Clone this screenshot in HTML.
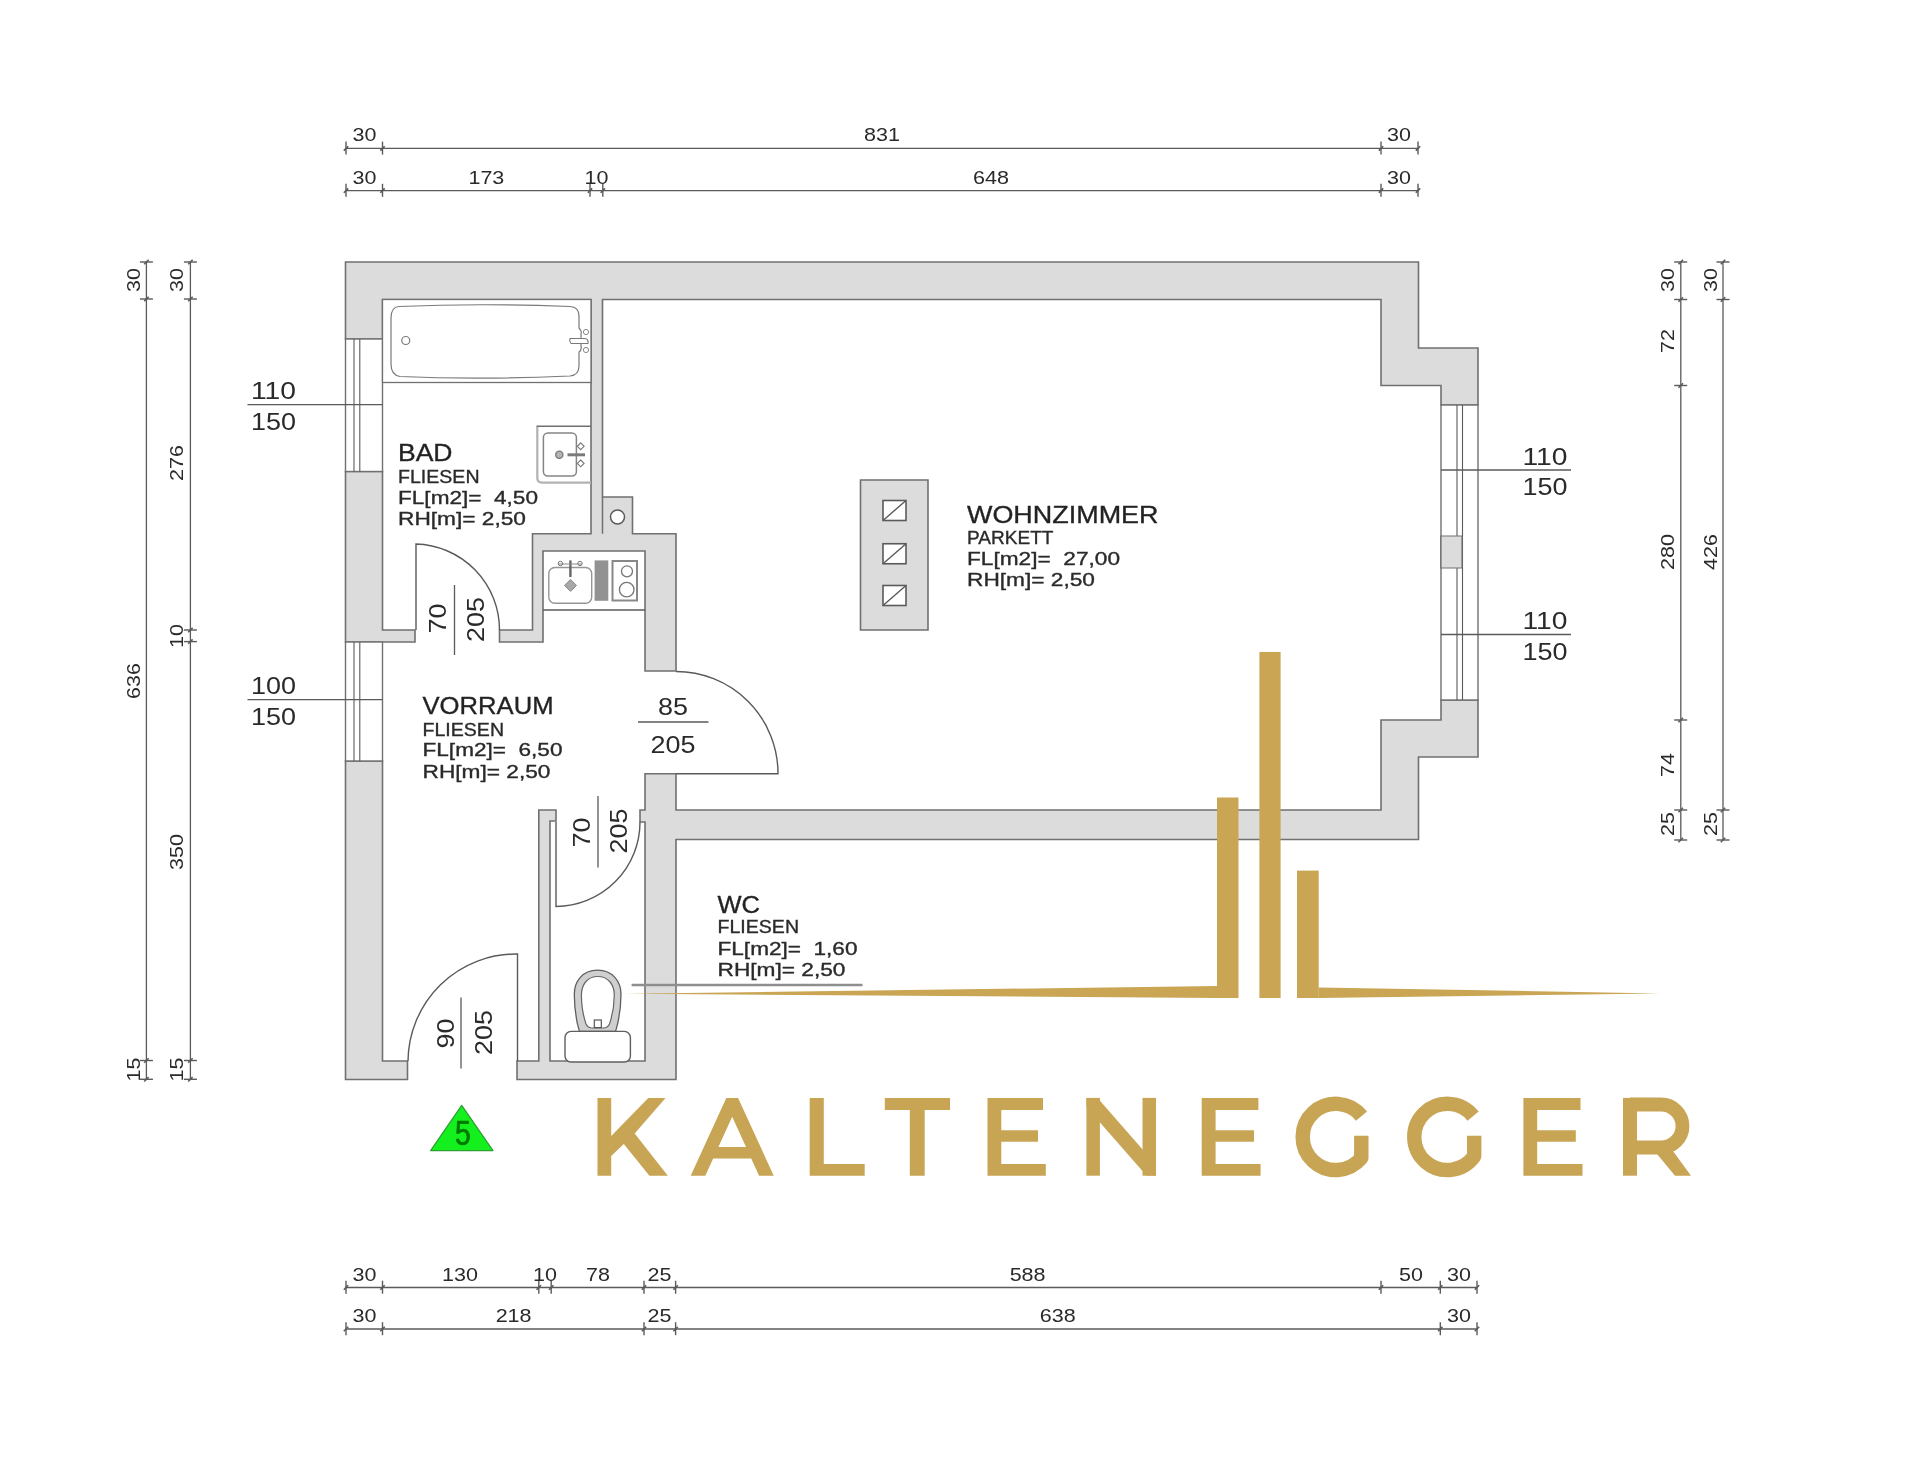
<!DOCTYPE html>
<html><head><meta charset="utf-8"><title>Floor plan</title>
<style>html,body{margin:0;padding:0;background:#fff;}body{width:1920px;height:1466px;overflow:hidden;font-family:"Liberation Sans",sans-serif;}svg{display:block;filter:blur(0.55px);}</style>
</head><body>
<svg width="1920" height="1466" viewBox="0 0 1920 1466" font-family="Liberation Sans, sans-serif">
<rect width="1920" height="1466" fill="#ffffff"/>
<path d="M345.5,262.0 L1418.5,262.0 L1418.5,348.0 L1478.0,348.0 L1478.0,405.0 L1441.0,405.0 L1441.0,385.5 L1381.0,385.5 L1381.0,299.5 L602.5,299.5 L602.5,497.0 L632.5,497.0 L632.5,533.8 L676.0,533.8 L676.0,671.0 L645.0,671.0 L645.0,551.0 L543.0,551.0 L543.0,642.0 L499.5,642.0 L499.5,630.0 L532.5,630.0 L532.5,533.8 L591.0,533.8 L591.0,299.5 L382.5,299.5 L382.5,339.0 L345.5,339.0 Z" fill="#dcdcdc" stroke="#707070" stroke-width="1.6" stroke-linejoin="miter"/>
<path d="M345.5,471.5 L382.5,471.5 L382.5,630.0 L415.0,630.0 L415.0,642.0 L345.5,642.0 Z" fill="#dcdcdc" stroke="#707070" stroke-width="1.6" stroke-linejoin="miter"/>
<path d="M345.5,761.0 L382.5,761.0 L382.5,1061.0 L407.5,1061.0 L407.5,1079.5 L345.5,1079.5 Z" fill="#dcdcdc" stroke="#707070" stroke-width="1.6" stroke-linejoin="miter"/>
<path d="M645.0,773.8 L676.0,773.8 L676.0,810.0 L1381.0,810.0 L1381.0,720.0 L1441.0,720.0 L1441.0,700.0 L1478.0,700.0 L1478.0,757.0 L1418.5,757.0 L1418.5,839.5 L676.0,839.5 L676.0,1079.5 L517.0,1079.5 L517.0,1061.0 L538.8,1061.0 L538.8,810.0 L556.0,810.0 L556.0,821.0 L550.0,821.0 L550.0,1061.0 L645.0,1061.0 L645.0,822.0 L640.0,822.0 L640.0,810.0 L645.0,810.0 Z" fill="#dcdcdc" stroke="#707070" stroke-width="1.6" stroke-linejoin="miter"/>
<path d="M1441.0,536.0 L1462.0,536.0 L1462.0,568.0 L1441.0,568.0 Z" fill="#dcdcdc" stroke="#707070" stroke-width="1.2" stroke-linejoin="miter"/>
<line x1="602.5" y1="497.0" x2="602.5" y2="533.8" stroke="#707070" stroke-width="1.5"/>
<circle cx="617.5" cy="517" r="7" fill="#fff" stroke="#5a5a5a" stroke-width="1.5"/>
<path d="M860.5,480.0 L928.0,480.0 L928.0,630.0 L860.5,630.0 Z" fill="#dcdcdc" stroke="#707070" stroke-width="1.6" stroke-linejoin="miter"/>
<rect x="883" y="500.5" width="23" height="20" fill="#fff" stroke="#5a5a5a" stroke-width="1.6"/>
<line x1="883.0" y1="520.5" x2="906.0" y2="500.5" stroke="#5a5a5a" stroke-width="1.4"/>
<rect x="883" y="543.75" width="23" height="20" fill="#fff" stroke="#5a5a5a" stroke-width="1.6"/>
<line x1="883.0" y1="563.8" x2="906.0" y2="543.8" stroke="#5a5a5a" stroke-width="1.4"/>
<rect x="883" y="585.5" width="23" height="20" fill="#fff" stroke="#5a5a5a" stroke-width="1.6"/>
<line x1="883.0" y1="605.5" x2="906.0" y2="585.5" stroke="#5a5a5a" stroke-width="1.4"/>
<rect x="345.5" y="339" width="37.0" height="132.5" fill="#fff" stroke="#707070" stroke-width="1.4"/>
<line x1="354.0" y1="339.0" x2="354.0" y2="471.5" stroke="#5a5a5a" stroke-width="1.1"/>
<line x1="359.8" y1="339.0" x2="359.8" y2="471.5" stroke="#5a5a5a" stroke-width="1.1"/>
<rect x="345.5" y="642" width="37.0" height="119" fill="#fff" stroke="#707070" stroke-width="1.4"/>
<line x1="354.0" y1="642.0" x2="354.0" y2="761.0" stroke="#5a5a5a" stroke-width="1.1"/>
<line x1="359.8" y1="642.0" x2="359.8" y2="761.0" stroke="#5a5a5a" stroke-width="1.1"/>
<rect x="1441" y="405" width="37" height="295" fill="#fff" stroke="#707070" stroke-width="1.4"/>
<line x1="1457.0" y1="405.0" x2="1457.0" y2="700.0" stroke="#5a5a5a" stroke-width="1.1"/>
<line x1="1462.5" y1="405.0" x2="1462.5" y2="700.0" stroke="#5a5a5a" stroke-width="1.1"/>
<path d="M1441.0,536.0 L1462.0,536.0 L1462.0,568.0 L1441.0,568.0 Z" fill="#dcdcdc" stroke="#707070" stroke-width="1.2" stroke-linejoin="miter"/>
<line x1="247.5" y1="404.7" x2="382.5" y2="404.7" stroke="#5a5a5a" stroke-width="1.3"/>
<text x="251.0" y="399.2" font-size="24" text-anchor="start" fill="#2a2a2a" font-weight="normal" textLength="45.0" lengthAdjust="spacingAndGlyphs" >110</text>
<text x="251.0" y="429.7" font-size="24" text-anchor="start" fill="#2a2a2a" font-weight="normal" textLength="45.0" lengthAdjust="spacingAndGlyphs" >150</text>
<line x1="247.5" y1="699.6" x2="382.5" y2="699.6" stroke="#5a5a5a" stroke-width="1.3"/>
<text x="251.0" y="694.1" font-size="24" text-anchor="start" fill="#2a2a2a" font-weight="normal" textLength="45.0" lengthAdjust="spacingAndGlyphs" >100</text>
<text x="251.0" y="724.6" font-size="24" text-anchor="start" fill="#2a2a2a" font-weight="normal" textLength="45.0" lengthAdjust="spacingAndGlyphs" >150</text>
<line x1="1441.0" y1="470.0" x2="1571.0" y2="470.0" stroke="#5a5a5a" stroke-width="1.3"/>
<text x="1522.5" y="464.5" font-size="24" text-anchor="start" fill="#2a2a2a" font-weight="normal" textLength="45.0" lengthAdjust="spacingAndGlyphs" >110</text>
<text x="1522.5" y="495.0" font-size="24" text-anchor="start" fill="#2a2a2a" font-weight="normal" textLength="45.0" lengthAdjust="spacingAndGlyphs" >150</text>
<line x1="1441.0" y1="634.5" x2="1571.0" y2="634.5" stroke="#5a5a5a" stroke-width="1.3"/>
<text x="1522.5" y="629.0" font-size="24" text-anchor="start" fill="#2a2a2a" font-weight="normal" textLength="45.0" lengthAdjust="spacingAndGlyphs" >110</text>
<text x="1522.5" y="659.5" font-size="24" text-anchor="start" fill="#2a2a2a" font-weight="normal" textLength="45.0" lengthAdjust="spacingAndGlyphs" >150</text>
<path d="M416,630 L416,544 A86,86 0 0 1 499.5,630" fill="none" stroke="#5a5a5a" stroke-width="1.4"/>
<path d="M676,773.75 L778,773.75 A102,102 0 0 0 676,671.5" fill="none" stroke="#5a5a5a" stroke-width="1.4"/>
<path d="M556,822 L556,906.5 A84.5,84.5 0 0 0 640,822" fill="none" stroke="#5a5a5a" stroke-width="1.4"/>
<path d="M517.5,1061 L517.5,954 A108,108 0 0 0 408,1061" fill="none" stroke="#5a5a5a" stroke-width="1.4"/>
<line x1="543.0" y1="610.0" x2="645.0" y2="610.0" stroke="#5a5a5a" stroke-width="1.3"/>
<line x1="454.5" y1="585.0" x2="454.5" y2="655.0" stroke="#5a5a5a" stroke-width="1.3"/>
<text x="445.7" y="618.5" font-size="24" text-anchor="middle" fill="#2a2a2a" font-weight="normal" textLength="30.0" lengthAdjust="spacingAndGlyphs" transform="rotate(-90 445.7 618.5)" >70</text>
<text x="484.2" y="619.5" font-size="24" text-anchor="middle" fill="#2a2a2a" font-weight="normal" textLength="45.0" lengthAdjust="spacingAndGlyphs" transform="rotate(-90 484.2 619.5)" >205</text>
<line x1="598.0" y1="796.0" x2="598.0" y2="867.5" stroke="#5a5a5a" stroke-width="1.3"/>
<text x="589.7" y="832.5" font-size="24" text-anchor="middle" fill="#2a2a2a" font-weight="normal" textLength="30.0" lengthAdjust="spacingAndGlyphs" transform="rotate(-90 589.7 832.5)" >70</text>
<text x="627.2" y="831.0" font-size="24" text-anchor="middle" fill="#2a2a2a" font-weight="normal" textLength="45.0" lengthAdjust="spacingAndGlyphs" transform="rotate(-90 627.2 831.0)" >205</text>
<line x1="461.0" y1="997.5" x2="461.0" y2="1068.5" stroke="#5a5a5a" stroke-width="1.3"/>
<text x="453.7" y="1033.5" font-size="24" text-anchor="middle" fill="#2a2a2a" font-weight="normal" textLength="30.0" lengthAdjust="spacingAndGlyphs" transform="rotate(-90 453.7 1033.5)" >90</text>
<text x="492.2" y="1032.5" font-size="24" text-anchor="middle" fill="#2a2a2a" font-weight="normal" textLength="45.0" lengthAdjust="spacingAndGlyphs" transform="rotate(-90 492.2 1032.5)" >205</text>
<line x1="638.0" y1="722.0" x2="708.5" y2="722.0" stroke="#5a5a5a" stroke-width="1.3"/>
<text x="673.0" y="715.0" font-size="24" text-anchor="middle" fill="#2a2a2a" font-weight="normal" textLength="30.0" lengthAdjust="spacingAndGlyphs" >85</text>
<text x="673.0" y="753.0" font-size="24" text-anchor="middle" fill="#2a2a2a" font-weight="normal" textLength="45.0" lengthAdjust="spacingAndGlyphs" >205</text>
<rect x="382.5" y="299.5" width="208.5" height="83.0" fill="#fff" stroke="#707070" stroke-width="1.3"/>
<path d="M399,306.5 Q391,307 391,318 L391,364 Q391,375 400,376.5 Q480,380 570,376 Q579,375 579,366 L579,352 Q582,350 581,346 L581,334 Q582,331 579,328 L579,316 Q579,307 570,306.5 Q480,303 399,306.5 Z" fill="#fff" stroke="#7a7a7a" stroke-width="1.2"/>
<circle cx="405.75" cy="340.5" r="4" fill="#fff" stroke="#7a7a7a" stroke-width="1.2"/>
<path d="M570,338.5 L585,338.5 Q588,339 588,341.5 L588,343.5 L571,343.5 Q569,341 570,338.5 Z" fill="#fff" stroke="#7a7a7a" stroke-width="1.1"/>
<circle cx="586" cy="332" r="2.6" fill="none" stroke="#8a8a8a" stroke-width="1"/>
<circle cx="586" cy="350" r="2.6" fill="none" stroke="#8a8a8a" stroke-width="1"/>
<path d="M591,482.6 L542,482.6 Q537.3,482.6 537.3,478 L537.3,426.3" fill="#fff" stroke="#b2b2b2" stroke-width="2.2"/>
<path d="M536.6,426.3 L591,426.3" fill="none" stroke="#707070" stroke-width="1.6"/>
<rect x="543.4" y="433" width="33" height="43" rx="4.5" fill="#fff" stroke="#858585" stroke-width="1.5"/>
<circle cx="559.3" cy="454.8" r="3.6" fill="#b5b5b5" stroke="#777" stroke-width="1.3"/>
<line x1="567.5" y1="454.8" x2="585.0" y2="454.8" stroke="#7a7a7a" stroke-width="3"/>
<path d="M580.7,442.90000000000003 L584.1,446.3 L580.7,449.7 L577.3,446.3 Z" fill="#fff" stroke="#777" stroke-width="1.1"/>
<path d="M580.7,460.0 L584.1,463.4 L580.7,466.79999999999995 L577.3,463.4 Z" fill="#fff" stroke="#777" stroke-width="1.1"/>
<rect x="548.8" y="567.5" width="42.9" height="35.8" rx="6" fill="#fff" stroke="#969696" stroke-width="1.4"/>
<line x1="570.4" y1="560.4" x2="570.4" y2="577.0" stroke="#666" stroke-width="2.4"/>
<line x1="558.0" y1="564.0" x2="582.0" y2="564.0" stroke="#888" stroke-width="1"/>
<circle cx="560.4" cy="563.5" r="2.2" fill="none" stroke="#777" stroke-width="1"/>
<circle cx="580" cy="563.5" r="2.2" fill="none" stroke="#777" stroke-width="1"/>
<path d="M570.5,579.4 L576.5,585.4 L570.5,591.4 L564.5,585.4 Z" fill="#a8a8a8" stroke="#8a8a8a" stroke-width="1"/>
<rect x="594.6" y="560.4" width="13.7" height="40.4" fill="#929292"/>
<rect x="612.5" y="561" width="24.5" height="39.5" fill="#fff" stroke="#888" stroke-width="2"/>
<circle cx="627" cy="571.3" r="5.5" fill="#fff" stroke="#777" stroke-width="1.3"/>
<circle cx="626.7" cy="589.6" r="7.3" fill="#fff" stroke="#777" stroke-width="1.3"/>
<path d="M597.6,970.2 C582,970.2 574.3,982 574.3,994 C574.3,1008 576,1020 579.4,1031.4 L615.6,1031.4 C619,1020 621,1008 621,994 C621,982 613,970.2 597.6,970.2 Z" fill="#cfcfcf" stroke="#5f5f5f" stroke-width="1.3"/>
<path d="M597.8,976.5 C587,976.5 581.4,985 581.4,995 C581.4,1007 584,1018 586,1024 Q588,1028 592,1028 L603.5,1028 Q607.5,1028 609.5,1024 C611.5,1018 614.3,1007 614.3,995 C614.3,985 608.5,976.5 597.8,976.5 Z" fill="#fff" stroke="#666" stroke-width="1.2"/>
<rect x="594.3" y="1020" width="7" height="7.6" fill="#fff" stroke="#555" stroke-width="1.2"/>
<rect x="565" y="1031.4" width="65.4" height="30.6" rx="6" fill="#fff" stroke="#5f5f5f" stroke-width="1.4"/>
<text x="398.0" y="461.0" font-size="24" text-anchor="start" fill="#222" font-weight="normal" textLength="54.5" lengthAdjust="spacingAndGlyphs" stroke="#2a2a2a" stroke-width="0.35">BAD</text>
<text x="398.0" y="482.7" font-size="18.5" text-anchor="start" fill="#2a2a2a" font-weight="normal" textLength="81.5" lengthAdjust="spacingAndGlyphs" stroke="#2a2a2a" stroke-width="0.35">FLIESEN</text>
<text x="398.0" y="503.5" font-size="18.5" text-anchor="start" fill="#2a2a2a" font-weight="normal" textLength="140.0" lengthAdjust="spacingAndGlyphs" xml:space="preserve" stroke="#2a2a2a" stroke-width="0.35">FL[m2]=  4,50</text>
<text x="398.0" y="524.7" font-size="18.5" text-anchor="start" fill="#2a2a2a" font-weight="normal" textLength="128.0" lengthAdjust="spacingAndGlyphs" stroke="#2a2a2a" stroke-width="0.35">RH[m]= 2,50</text>
<text x="422.5" y="713.8" font-size="24" text-anchor="start" fill="#222" font-weight="normal" textLength="131.0" lengthAdjust="spacingAndGlyphs" stroke="#2a2a2a" stroke-width="0.35">VORRAUM</text>
<text x="422.5" y="735.5" font-size="18.5" text-anchor="start" fill="#2a2a2a" font-weight="normal" textLength="81.5" lengthAdjust="spacingAndGlyphs" stroke="#2a2a2a" stroke-width="0.35">FLIESEN</text>
<text x="422.5" y="756.2" font-size="18.5" text-anchor="start" fill="#2a2a2a" font-weight="normal" textLength="140.0" lengthAdjust="spacingAndGlyphs" xml:space="preserve" stroke="#2a2a2a" stroke-width="0.35">FL[m2]=  6,50</text>
<text x="422.5" y="777.5" font-size="18.5" text-anchor="start" fill="#2a2a2a" font-weight="normal" textLength="128.0" lengthAdjust="spacingAndGlyphs" stroke="#2a2a2a" stroke-width="0.35">RH[m]= 2,50</text>
<text x="967.0" y="522.5" font-size="24" text-anchor="start" fill="#222" font-weight="normal" textLength="191.5" lengthAdjust="spacingAndGlyphs" stroke="#2a2a2a" stroke-width="0.35">WOHNZIMMER</text>
<text x="967.0" y="543.8" font-size="18.5" text-anchor="start" fill="#2a2a2a" font-weight="normal" textLength="86.5" lengthAdjust="spacingAndGlyphs" stroke="#2a2a2a" stroke-width="0.35">PARKETT</text>
<text x="967.0" y="565.0" font-size="18.5" text-anchor="start" fill="#2a2a2a" font-weight="normal" textLength="153.0" lengthAdjust="spacingAndGlyphs" xml:space="preserve" stroke="#2a2a2a" stroke-width="0.35">FL[m2]=  27,00</text>
<text x="967.0" y="586.0" font-size="18.5" text-anchor="start" fill="#2a2a2a" font-weight="normal" textLength="128.0" lengthAdjust="spacingAndGlyphs" stroke="#2a2a2a" stroke-width="0.35">RH[m]= 2,50</text>
<text x="717.5" y="912.5" font-size="24" text-anchor="start" fill="#222" font-weight="normal" textLength="42.5" lengthAdjust="spacingAndGlyphs" stroke="#2a2a2a" stroke-width="0.35">WC</text>
<text x="717.5" y="933.0" font-size="18.5" text-anchor="start" fill="#2a2a2a" font-weight="normal" textLength="81.5" lengthAdjust="spacingAndGlyphs" stroke="#2a2a2a" stroke-width="0.35">FLIESEN</text>
<text x="717.5" y="955.0" font-size="18.5" text-anchor="start" fill="#2a2a2a" font-weight="normal" textLength="140.0" lengthAdjust="spacingAndGlyphs" xml:space="preserve" stroke="#2a2a2a" stroke-width="0.35">FL[m2]=  1,60</text>
<text x="717.5" y="975.5" font-size="18.5" text-anchor="start" fill="#2a2a2a" font-weight="normal" textLength="128.0" lengthAdjust="spacingAndGlyphs" stroke="#2a2a2a" stroke-width="0.35">RH[m]= 2,50</text>
<line x1="631.6" y1="985.0" x2="862.5" y2="985.0" stroke="#8e8e8e" stroke-width="2.5"/>
<line x1="346.0" y1="148.4" x2="1418.0" y2="148.4" stroke="#5a5a5a" stroke-width="1.3"/>
<line x1="346.0" y1="141.6" x2="346.0" y2="154.6" stroke="#5a5a5a" stroke-width="1.4"/>
<line x1="343.8" y1="150.6" x2="348.2" y2="146.2" stroke="#5a5a5a" stroke-width="1.6"/>
<line x1="382.5" y1="141.6" x2="382.5" y2="154.6" stroke="#5a5a5a" stroke-width="1.4"/>
<line x1="380.3" y1="150.6" x2="384.7" y2="146.2" stroke="#5a5a5a" stroke-width="1.6"/>
<line x1="1381.0" y1="141.6" x2="1381.0" y2="154.6" stroke="#5a5a5a" stroke-width="1.4"/>
<line x1="1378.8" y1="150.6" x2="1383.2" y2="146.2" stroke="#5a5a5a" stroke-width="1.6"/>
<line x1="1418.0" y1="141.6" x2="1418.0" y2="154.6" stroke="#5a5a5a" stroke-width="1.4"/>
<line x1="1415.8" y1="150.6" x2="1420.2" y2="146.2" stroke="#5a5a5a" stroke-width="1.6"/>
<line x1="346.0" y1="190.6" x2="1418.0" y2="190.6" stroke="#5a5a5a" stroke-width="1.3"/>
<line x1="346.0" y1="183.8" x2="346.0" y2="196.8" stroke="#5a5a5a" stroke-width="1.4"/>
<line x1="343.8" y1="192.8" x2="348.2" y2="188.4" stroke="#5a5a5a" stroke-width="1.6"/>
<line x1="382.5" y1="183.8" x2="382.5" y2="196.8" stroke="#5a5a5a" stroke-width="1.4"/>
<line x1="380.3" y1="192.8" x2="384.7" y2="188.4" stroke="#5a5a5a" stroke-width="1.6"/>
<line x1="590.0" y1="183.8" x2="590.0" y2="196.8" stroke="#5a5a5a" stroke-width="1.4"/>
<line x1="587.8" y1="192.8" x2="592.2" y2="188.4" stroke="#5a5a5a" stroke-width="1.6"/>
<line x1="602.8" y1="183.8" x2="602.8" y2="196.8" stroke="#5a5a5a" stroke-width="1.4"/>
<line x1="600.6" y1="192.8" x2="605.0" y2="188.4" stroke="#5a5a5a" stroke-width="1.6"/>
<line x1="1381.0" y1="183.8" x2="1381.0" y2="196.8" stroke="#5a5a5a" stroke-width="1.4"/>
<line x1="1378.8" y1="192.8" x2="1383.2" y2="188.4" stroke="#5a5a5a" stroke-width="1.6"/>
<line x1="1418.0" y1="183.8" x2="1418.0" y2="196.8" stroke="#5a5a5a" stroke-width="1.4"/>
<line x1="1415.8" y1="192.8" x2="1420.2" y2="188.4" stroke="#5a5a5a" stroke-width="1.6"/>
<text x="364.5" y="141.3" font-size="19" text-anchor="middle" fill="#2a2a2a" font-weight="normal" textLength="23.9" lengthAdjust="spacingAndGlyphs" >30</text>
<text x="882.0" y="141.3" font-size="19" text-anchor="middle" fill="#2a2a2a" font-weight="normal" textLength="35.9" lengthAdjust="spacingAndGlyphs" >831</text>
<text x="1399.0" y="141.3" font-size="19" text-anchor="middle" fill="#2a2a2a" font-weight="normal" textLength="23.9" lengthAdjust="spacingAndGlyphs" >30</text>
<text x="364.5" y="183.5" font-size="19" text-anchor="middle" fill="#2a2a2a" font-weight="normal" textLength="23.9" lengthAdjust="spacingAndGlyphs" >30</text>
<text x="486.4" y="183.5" font-size="19" text-anchor="middle" fill="#2a2a2a" font-weight="normal" textLength="35.9" lengthAdjust="spacingAndGlyphs" >173</text>
<text x="596.5" y="183.5" font-size="19" text-anchor="middle" fill="#2a2a2a" font-weight="normal" textLength="23.9" lengthAdjust="spacingAndGlyphs" >10</text>
<text x="991.0" y="183.5" font-size="19" text-anchor="middle" fill="#2a2a2a" font-weight="normal" textLength="35.9" lengthAdjust="spacingAndGlyphs" >648</text>
<text x="1399.0" y="183.5" font-size="19" text-anchor="middle" fill="#2a2a2a" font-weight="normal" textLength="23.9" lengthAdjust="spacingAndGlyphs" >30</text>
<line x1="346.0" y1="1287.5" x2="1477.0" y2="1287.5" stroke="#5a5a5a" stroke-width="1.3"/>
<line x1="346.0" y1="1280.7" x2="346.0" y2="1293.7" stroke="#5a5a5a" stroke-width="1.4"/>
<line x1="343.8" y1="1289.7" x2="348.2" y2="1285.3" stroke="#5a5a5a" stroke-width="1.6"/>
<line x1="382.5" y1="1280.7" x2="382.5" y2="1293.7" stroke="#5a5a5a" stroke-width="1.4"/>
<line x1="380.3" y1="1289.7" x2="384.7" y2="1285.3" stroke="#5a5a5a" stroke-width="1.6"/>
<line x1="538.8" y1="1280.7" x2="538.8" y2="1293.7" stroke="#5a5a5a" stroke-width="1.4"/>
<line x1="536.5" y1="1289.7" x2="541.0" y2="1285.3" stroke="#5a5a5a" stroke-width="1.6"/>
<line x1="551.2" y1="1280.7" x2="551.2" y2="1293.7" stroke="#5a5a5a" stroke-width="1.4"/>
<line x1="549.0" y1="1289.7" x2="553.5" y2="1285.3" stroke="#5a5a5a" stroke-width="1.6"/>
<line x1="644.0" y1="1280.7" x2="644.0" y2="1293.7" stroke="#5a5a5a" stroke-width="1.4"/>
<line x1="641.8" y1="1289.7" x2="646.2" y2="1285.3" stroke="#5a5a5a" stroke-width="1.6"/>
<line x1="675.6" y1="1280.7" x2="675.6" y2="1293.7" stroke="#5a5a5a" stroke-width="1.4"/>
<line x1="673.4" y1="1289.7" x2="677.8" y2="1285.3" stroke="#5a5a5a" stroke-width="1.6"/>
<line x1="1381.0" y1="1280.7" x2="1381.0" y2="1293.7" stroke="#5a5a5a" stroke-width="1.4"/>
<line x1="1378.8" y1="1289.7" x2="1383.2" y2="1285.3" stroke="#5a5a5a" stroke-width="1.6"/>
<line x1="1440.3" y1="1280.7" x2="1440.3" y2="1293.7" stroke="#5a5a5a" stroke-width="1.4"/>
<line x1="1438.1" y1="1289.7" x2="1442.5" y2="1285.3" stroke="#5a5a5a" stroke-width="1.6"/>
<line x1="1477.0" y1="1280.7" x2="1477.0" y2="1293.7" stroke="#5a5a5a" stroke-width="1.4"/>
<line x1="1474.8" y1="1289.7" x2="1479.2" y2="1285.3" stroke="#5a5a5a" stroke-width="1.6"/>
<line x1="346.0" y1="1329.0" x2="1477.0" y2="1329.0" stroke="#5a5a5a" stroke-width="1.3"/>
<line x1="346.0" y1="1322.2" x2="346.0" y2="1335.2" stroke="#5a5a5a" stroke-width="1.4"/>
<line x1="343.8" y1="1331.2" x2="348.2" y2="1326.8" stroke="#5a5a5a" stroke-width="1.6"/>
<line x1="382.5" y1="1322.2" x2="382.5" y2="1335.2" stroke="#5a5a5a" stroke-width="1.4"/>
<line x1="380.3" y1="1331.2" x2="384.7" y2="1326.8" stroke="#5a5a5a" stroke-width="1.6"/>
<line x1="644.0" y1="1322.2" x2="644.0" y2="1335.2" stroke="#5a5a5a" stroke-width="1.4"/>
<line x1="641.8" y1="1331.2" x2="646.2" y2="1326.8" stroke="#5a5a5a" stroke-width="1.6"/>
<line x1="675.6" y1="1322.2" x2="675.6" y2="1335.2" stroke="#5a5a5a" stroke-width="1.4"/>
<line x1="673.4" y1="1331.2" x2="677.8" y2="1326.8" stroke="#5a5a5a" stroke-width="1.6"/>
<line x1="1440.3" y1="1322.2" x2="1440.3" y2="1335.2" stroke="#5a5a5a" stroke-width="1.4"/>
<line x1="1438.1" y1="1331.2" x2="1442.5" y2="1326.8" stroke="#5a5a5a" stroke-width="1.6"/>
<line x1="1477.0" y1="1322.2" x2="1477.0" y2="1335.2" stroke="#5a5a5a" stroke-width="1.4"/>
<line x1="1474.8" y1="1331.2" x2="1479.2" y2="1326.8" stroke="#5a5a5a" stroke-width="1.6"/>
<text x="364.5" y="1280.6" font-size="19" text-anchor="middle" fill="#2a2a2a" font-weight="normal" textLength="23.9" lengthAdjust="spacingAndGlyphs" >30</text>
<text x="460.0" y="1280.6" font-size="19" text-anchor="middle" fill="#2a2a2a" font-weight="normal" textLength="35.9" lengthAdjust="spacingAndGlyphs" >130</text>
<text x="545.0" y="1280.6" font-size="19" text-anchor="middle" fill="#2a2a2a" font-weight="normal" textLength="23.9" lengthAdjust="spacingAndGlyphs" >10</text>
<text x="598.0" y="1280.6" font-size="19" text-anchor="middle" fill="#2a2a2a" font-weight="normal" textLength="23.9" lengthAdjust="spacingAndGlyphs" >78</text>
<text x="659.5" y="1280.6" font-size="19" text-anchor="middle" fill="#2a2a2a" font-weight="normal" textLength="23.9" lengthAdjust="spacingAndGlyphs" >25</text>
<text x="1027.6" y="1280.6" font-size="19" text-anchor="middle" fill="#2a2a2a" font-weight="normal" textLength="35.9" lengthAdjust="spacingAndGlyphs" >588</text>
<text x="1411.0" y="1280.6" font-size="19" text-anchor="middle" fill="#2a2a2a" font-weight="normal" textLength="23.9" lengthAdjust="spacingAndGlyphs" >50</text>
<text x="1459.0" y="1280.6" font-size="19" text-anchor="middle" fill="#2a2a2a" font-weight="normal" textLength="23.9" lengthAdjust="spacingAndGlyphs" >30</text>
<text x="364.5" y="1322.0" font-size="19" text-anchor="middle" fill="#2a2a2a" font-weight="normal" textLength="23.9" lengthAdjust="spacingAndGlyphs" >30</text>
<text x="513.6" y="1322.0" font-size="19" text-anchor="middle" fill="#2a2a2a" font-weight="normal" textLength="35.9" lengthAdjust="spacingAndGlyphs" >218</text>
<text x="659.5" y="1322.0" font-size="19" text-anchor="middle" fill="#2a2a2a" font-weight="normal" textLength="23.9" lengthAdjust="spacingAndGlyphs" >25</text>
<text x="1057.8" y="1322.0" font-size="19" text-anchor="middle" fill="#2a2a2a" font-weight="normal" textLength="35.9" lengthAdjust="spacingAndGlyphs" >638</text>
<text x="1459.0" y="1322.0" font-size="19" text-anchor="middle" fill="#2a2a2a" font-weight="normal" textLength="23.9" lengthAdjust="spacingAndGlyphs" >30</text>
<line x1="146.4" y1="262.0" x2="146.4" y2="1079.3" stroke="#5a5a5a" stroke-width="1.3"/>
<line x1="139.9" y1="262.0" x2="152.9" y2="262.0" stroke="#5a5a5a" stroke-width="1.4"/>
<line x1="144.2" y1="264.2" x2="148.6" y2="259.8" stroke="#5a5a5a" stroke-width="1.6"/>
<line x1="139.9" y1="299.0" x2="152.9" y2="299.0" stroke="#5a5a5a" stroke-width="1.4"/>
<line x1="144.2" y1="301.2" x2="148.6" y2="296.8" stroke="#5a5a5a" stroke-width="1.6"/>
<line x1="139.9" y1="1060.5" x2="152.9" y2="1060.5" stroke="#5a5a5a" stroke-width="1.4"/>
<line x1="144.2" y1="1062.7" x2="148.6" y2="1058.3" stroke="#5a5a5a" stroke-width="1.6"/>
<line x1="139.9" y1="1079.3" x2="152.9" y2="1079.3" stroke="#5a5a5a" stroke-width="1.4"/>
<line x1="144.2" y1="1081.5" x2="148.6" y2="1077.1" stroke="#5a5a5a" stroke-width="1.6"/>
<line x1="190.4" y1="262.0" x2="190.4" y2="1079.3" stroke="#5a5a5a" stroke-width="1.3"/>
<line x1="183.9" y1="262.0" x2="196.9" y2="262.0" stroke="#5a5a5a" stroke-width="1.4"/>
<line x1="188.2" y1="264.2" x2="192.6" y2="259.8" stroke="#5a5a5a" stroke-width="1.6"/>
<line x1="183.9" y1="299.0" x2="196.9" y2="299.0" stroke="#5a5a5a" stroke-width="1.4"/>
<line x1="188.2" y1="301.2" x2="192.6" y2="296.8" stroke="#5a5a5a" stroke-width="1.6"/>
<line x1="183.9" y1="630.0" x2="196.9" y2="630.0" stroke="#5a5a5a" stroke-width="1.4"/>
<line x1="188.2" y1="632.2" x2="192.6" y2="627.8" stroke="#5a5a5a" stroke-width="1.6"/>
<line x1="183.9" y1="641.6" x2="196.9" y2="641.6" stroke="#5a5a5a" stroke-width="1.4"/>
<line x1="188.2" y1="643.8" x2="192.6" y2="639.4" stroke="#5a5a5a" stroke-width="1.6"/>
<line x1="183.9" y1="1060.5" x2="196.9" y2="1060.5" stroke="#5a5a5a" stroke-width="1.4"/>
<line x1="188.2" y1="1062.7" x2="192.6" y2="1058.3" stroke="#5a5a5a" stroke-width="1.6"/>
<line x1="183.9" y1="1079.3" x2="196.9" y2="1079.3" stroke="#5a5a5a" stroke-width="1.4"/>
<line x1="188.2" y1="1081.5" x2="192.6" y2="1077.1" stroke="#5a5a5a" stroke-width="1.6"/>
<text x="139.8" y="280.0" font-size="19" text-anchor="middle" fill="#2a2a2a" font-weight="normal" textLength="23.9" lengthAdjust="spacingAndGlyphs" transform="rotate(-90 139.8 280.0)" >30</text>
<text x="139.8" y="681.0" font-size="19" text-anchor="middle" fill="#2a2a2a" font-weight="normal" textLength="35.9" lengthAdjust="spacingAndGlyphs" transform="rotate(-90 139.8 681.0)" >636</text>
<text x="139.8" y="1069.5" font-size="19" text-anchor="middle" fill="#2a2a2a" font-weight="normal" textLength="23.9" lengthAdjust="spacingAndGlyphs" transform="rotate(-90 139.8 1069.5)" >15</text>
<text x="183.3" y="280.0" font-size="19" text-anchor="middle" fill="#2a2a2a" font-weight="normal" textLength="23.9" lengthAdjust="spacingAndGlyphs" transform="rotate(-90 183.3 280.0)" >30</text>
<text x="183.3" y="463.0" font-size="19" text-anchor="middle" fill="#2a2a2a" font-weight="normal" textLength="35.9" lengthAdjust="spacingAndGlyphs" transform="rotate(-90 183.3 463.0)" >276</text>
<text x="183.3" y="636.0" font-size="19" text-anchor="middle" fill="#2a2a2a" font-weight="normal" textLength="23.9" lengthAdjust="spacingAndGlyphs" transform="rotate(-90 183.3 636.0)" >10</text>
<text x="183.3" y="852.0" font-size="19" text-anchor="middle" fill="#2a2a2a" font-weight="normal" textLength="35.9" lengthAdjust="spacingAndGlyphs" transform="rotate(-90 183.3 852.0)" >350</text>
<text x="183.3" y="1069.5" font-size="19" text-anchor="middle" fill="#2a2a2a" font-weight="normal" textLength="23.9" lengthAdjust="spacingAndGlyphs" transform="rotate(-90 183.3 1069.5)" >15</text>
<line x1="1680.8" y1="262.0" x2="1680.8" y2="840.0" stroke="#5a5a5a" stroke-width="1.3"/>
<line x1="1674.2" y1="262.0" x2="1687.2" y2="262.0" stroke="#5a5a5a" stroke-width="1.4"/>
<line x1="1678.5" y1="264.2" x2="1683.0" y2="259.8" stroke="#5a5a5a" stroke-width="1.6"/>
<line x1="1674.2" y1="299.5" x2="1687.2" y2="299.5" stroke="#5a5a5a" stroke-width="1.4"/>
<line x1="1678.5" y1="301.7" x2="1683.0" y2="297.3" stroke="#5a5a5a" stroke-width="1.6"/>
<line x1="1674.2" y1="385.5" x2="1687.2" y2="385.5" stroke="#5a5a5a" stroke-width="1.4"/>
<line x1="1678.5" y1="387.7" x2="1683.0" y2="383.3" stroke="#5a5a5a" stroke-width="1.6"/>
<line x1="1674.2" y1="720.0" x2="1687.2" y2="720.0" stroke="#5a5a5a" stroke-width="1.4"/>
<line x1="1678.5" y1="722.2" x2="1683.0" y2="717.8" stroke="#5a5a5a" stroke-width="1.6"/>
<line x1="1674.2" y1="810.0" x2="1687.2" y2="810.0" stroke="#5a5a5a" stroke-width="1.4"/>
<line x1="1678.5" y1="812.2" x2="1683.0" y2="807.8" stroke="#5a5a5a" stroke-width="1.6"/>
<line x1="1674.2" y1="840.0" x2="1687.2" y2="840.0" stroke="#5a5a5a" stroke-width="1.4"/>
<line x1="1678.5" y1="842.2" x2="1683.0" y2="837.8" stroke="#5a5a5a" stroke-width="1.6"/>
<line x1="1723.0" y1="262.0" x2="1723.0" y2="840.0" stroke="#5a5a5a" stroke-width="1.3"/>
<line x1="1716.5" y1="262.0" x2="1729.5" y2="262.0" stroke="#5a5a5a" stroke-width="1.4"/>
<line x1="1720.8" y1="264.2" x2="1725.2" y2="259.8" stroke="#5a5a5a" stroke-width="1.6"/>
<line x1="1716.5" y1="299.5" x2="1729.5" y2="299.5" stroke="#5a5a5a" stroke-width="1.4"/>
<line x1="1720.8" y1="301.7" x2="1725.2" y2="297.3" stroke="#5a5a5a" stroke-width="1.6"/>
<line x1="1716.5" y1="810.0" x2="1729.5" y2="810.0" stroke="#5a5a5a" stroke-width="1.4"/>
<line x1="1720.8" y1="812.2" x2="1725.2" y2="807.8" stroke="#5a5a5a" stroke-width="1.6"/>
<line x1="1716.5" y1="840.0" x2="1729.5" y2="840.0" stroke="#5a5a5a" stroke-width="1.4"/>
<line x1="1720.8" y1="842.2" x2="1725.2" y2="837.8" stroke="#5a5a5a" stroke-width="1.6"/>
<text x="1674.3" y="280.0" font-size="19" text-anchor="middle" fill="#2a2a2a" font-weight="normal" textLength="23.9" lengthAdjust="spacingAndGlyphs" transform="rotate(-90 1674.3 280.0)" >30</text>
<text x="1674.3" y="341.0" font-size="19" text-anchor="middle" fill="#2a2a2a" font-weight="normal" textLength="23.9" lengthAdjust="spacingAndGlyphs" transform="rotate(-90 1674.3 341.0)" >72</text>
<text x="1674.3" y="552.0" font-size="19" text-anchor="middle" fill="#2a2a2a" font-weight="normal" textLength="35.9" lengthAdjust="spacingAndGlyphs" transform="rotate(-90 1674.3 552.0)" >280</text>
<text x="1674.3" y="765.0" font-size="19" text-anchor="middle" fill="#2a2a2a" font-weight="normal" textLength="23.9" lengthAdjust="spacingAndGlyphs" transform="rotate(-90 1674.3 765.0)" >74</text>
<text x="1674.3" y="824.0" font-size="19" text-anchor="middle" fill="#2a2a2a" font-weight="normal" textLength="23.9" lengthAdjust="spacingAndGlyphs" transform="rotate(-90 1674.3 824.0)" >25</text>
<text x="1716.8" y="280.0" font-size="19" text-anchor="middle" fill="#2a2a2a" font-weight="normal" textLength="23.9" lengthAdjust="spacingAndGlyphs" transform="rotate(-90 1716.8 280.0)" >30</text>
<text x="1716.8" y="552.0" font-size="19" text-anchor="middle" fill="#2a2a2a" font-weight="normal" textLength="35.9" lengthAdjust="spacingAndGlyphs" transform="rotate(-90 1716.8 552.0)" >426</text>
<text x="1716.8" y="824.0" font-size="19" text-anchor="middle" fill="#2a2a2a" font-weight="normal" textLength="23.9" lengthAdjust="spacingAndGlyphs" transform="rotate(-90 1716.8 824.0)" >25</text>
<path d="M461.7,1105.3 L493,1150.6 L430.6,1150.6 Z" fill="#14f01e" stroke="#2f9e33" stroke-width="1.2" stroke-linejoin="round"/>
<text x="462.9" y="1145.1" font-size="34.3" text-anchor="middle" fill="#007800" font-weight="normal" textLength="15.8" lengthAdjust="spacingAndGlyphs" stroke="#007800" stroke-width="0.7">5</text>
<g fill="#c9a554">
<rect x="1217" y="797.5" width="21.5" height="200.5"/>
<rect x="1259.4" y="652" width="21.2" height="346"/>
<rect x="1297" y="870.6" width="21.7" height="127.4"/>
<path d="M1217.5,986 L1217.5,998 L625,993.8 Z"/>
<path d="M1318.5,987.4 L1318.5,998 L1660,993.4 Z"/>
</g>
<g fill="#c8a555" stroke="none">
<path d="M597.5,1097.9 L611.2,1097.9 L611.2,1136.0 L648.3,1097.9 L665.5,1097.9 L634.7,1133.4 L667.8,1175.7 L649.4,1175.7 L623.8,1144.0 L611.2,1156.0 L611.2,1175.7 L597.5,1175.7 Z"/>
<path fill-rule="evenodd" d="M726.3,1097.9 L738.1,1097.9 L773.7,1175.7 L759.1,1175.7 L751.2,1158.5 L713.2,1158.5 L705.3,1175.7 L690.7,1175.7 Z M732.2,1116.8 L746.0,1147.0 L718.4,1147.0 Z"/>
<path d="M809.7,1097.9 L823.8,1097.9 L823.8,1163.9 L864.7,1163.9 L864.7,1175.7 L809.7,1175.7 Z"/>
<path d="M884.8,1097.9 L950.0,1097.9 L950.0,1110.0 L924.7,1110.0 L924.7,1175.7 L909.8,1175.7 L909.8,1110.0 L884.8,1110.0 Z"/>
<path d="M987.5,1097.9 L1043.0,1097.9 L1043.0,1110.0 L1001.3,1110.0 L1001.3,1130.3 L1038.0,1130.3 L1038.0,1141.8 L1001.3,1141.8 L1001.3,1164.0 L1045.8,1164.0 L1045.8,1175.7 L987.5,1175.7 Z"/>
<clipPath id="nclip"><rect x="1086.4" y="1097.9" width="69.6" height="77.8"/></clipPath>
<rect x="1086.4" y="1097.9" width="13.5" height="77.8"/>
<rect x="1142.5" y="1097.9" width="13.5" height="77.8"/>
<g clip-path="url(#nclip)">
<path d="M1078.5,1097.9 L1097.5,1097.9 L1165.6,1175.7 L1146.6,1175.7 Z"/>
</g>
<path d="M1201.7,1097.9 L1258.4,1097.9 L1258.4,1110.0 L1215.6,1110.0 L1215.6,1130.3 L1254.0,1130.3 L1254.0,1141.8 L1215.6,1141.8 L1215.6,1164.0 L1260.6,1164.0 L1260.6,1175.7 L1201.7,1175.7 Z"/>
<path d="M1361.5,1116.1 A33.1,33.1 0 1 0 1361.3,1158.0 L1361.3,1135.8" fill="none" stroke="#c8a555" stroke-width="14.4" stroke-linejoin="round"/>
<path d="M1473.1,1116.1 A33.1,33.1 0 1 0 1474.2,1156.3 L1474.2,1135.8" fill="none" stroke="#c8a555" stroke-width="14.4" stroke-linejoin="round"/>
<path d="M1523.4,1097.9 L1580.5,1097.9 L1580.5,1110.0 L1537.2,1110.0 L1537.2,1130.3 L1575.8,1130.3 L1575.8,1141.8 L1537.2,1141.8 L1537.2,1164.0 L1582.5,1164.0 L1582.5,1175.7 L1523.4,1175.7 Z"/>
<rect x="1623.0" y="1097.9" width="14.0" height="77.8"/>
<path d="M1630,1104.5 H1661 A21.5,21.5 0 0 1 1661,1147.5 H1630" fill="none" stroke="#c8a555" stroke-width="13.8"/>
<path d="M1654.5,1151.0 L1671.5,1149.0 L1691.0,1175.7 L1675.0,1175.7 Z"/>
</g>
</svg>
</body></html>
